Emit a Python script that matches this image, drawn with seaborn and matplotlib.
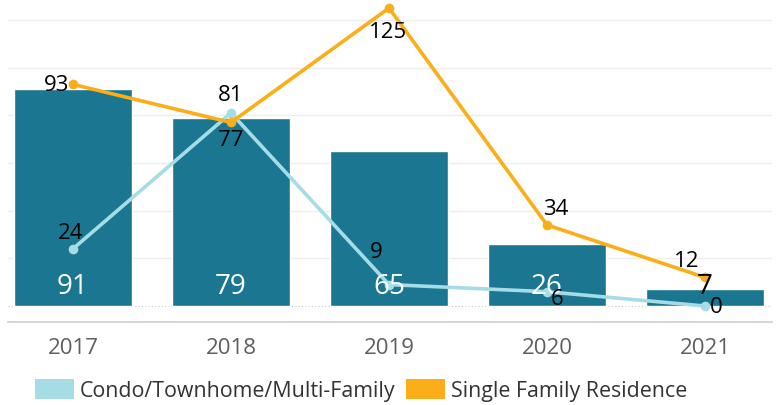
import matplotlib
matplotlib.use("Agg")
import matplotlib.pyplot as plt
import seaborn as sns
import numpy as np
import pandas as pd
from matplotlib.patches import Patch

years = ["2017", "2018", "2019", "2020", "2021"]
total = [91, 79, 65, 26, 7]
condo = [24, 81, 9, 6, 0]
single = [93, 77, 125, 34, 12]
series_names = ["Condo/Townhome/Multi-Family", "Single Family Residence"]

BAR = "#1b7791"
LIGHT = "#a6dce6"
ORANGE = "#fbae17"
FONT = ["Open Sans", "DejaVu Sans"]

sns.set_theme(style="white")
plt.rcParams["font.family"] = FONT

fig = plt.figure(figsize=(7.8, 4.06), dpi=100)
ax = fig.add_axes([8 / 780, (406 - 323) / 406, (772 - 8) / 780, 323 / 406])

df = pd.DataFrame({"year": years, "total": total, "condo": condo, "single": single})

sns.barplot(data=df, x="year", y="total", color=BAR, saturation=1, width=0.745,
            ax=ax, zorder=2, errorbar=None)
sns.pointplot(data=df, x="year", y="condo", color=LIGHT, markers="o", ax=ax,
              errorbar=None, markersize=5, linewidth=2.6, zorder=4)
sns.pointplot(data=df, x="year", y="single", color=ORANGE, markers="o", ax=ax,
              errorbar=None, markersize=5, linewidth=2.6, zorder=5)

ax.set_xlabel("")
ax.set_ylabel("")
ax.set_yticks([])
for v in [20, 40, 60, 80, 100, 120]:
    ax.axhline(v, color="#eeeeee", lw=1, zorder=0)
ax.axhline(0, color="#c8c8c8", lw=0.8, ls=(0, (1, 2)), zorder=1)

for s in ["top", "right", "left"]:
    ax.spines[s].set_visible(False)
ax.spines["bottom"].set_color("#d0d0d0")
ax.spines["bottom"].set_linewidth(1.2)

ax.tick_params(axis="x", which="major", length=0, pad=11, labelsize=16, labelcolor="#605e5c")
ax.set_xticks(np.arange(len(years) - 1) + 0.5, minor=True)
ax.tick_params(axis="x", which="minor", length=8, color="#eeeeee", width=1, direction="out")

ax.set_xlim(-0.411, 4.424)
ax.set_ylim(-6.7, 128.8)

# bar labels
for i, v in enumerate(total):
    col = "white" if v > 15 else "black"
    ax.text(i, 8.6, str(v), ha="center", va="center", fontsize=20, color=col, zorder=6)

# line labels (offset in points)
def lab(i, v, dx, dy, ha="center"):
    ax.annotate(str(v), (i, v), xytext=(dx, dy), textcoords="offset points",
                ha=ha, va="center", fontsize=16, color="black", zorder=7)

lab(0, single[0], -3, 0, ha="right")
lab(1, single[1], 0, -12)
lab(2, single[2], -1, -17)
lab(3, single[3], 6, 12)
lab(4, single[4], -13, 12)

lab(0, condo[0], -2, 12)
lab(1, condo[1], 0, 13)
lab(2, condo[2], -9, 24)
lab(3, condo[3], 7, -5)
lab(4, condo[4], 8, 0)

handles = [Patch(facecolor=LIGHT, edgecolor="none"), Patch(facecolor=ORANGE, edgecolor="none")]
fig.legend(handles, series_names, loc="center left", bbox_to_anchor=(16 / 780, 1 - 391 / 406),
           ncol=2, frameon=False, fontsize=15.4, handlelength=1.8, handleheight=1.1,
           handletextpad=0.3, columnspacing=0.5, labelcolor="#333333")

fig.savefig("out.png", dpi=100)
